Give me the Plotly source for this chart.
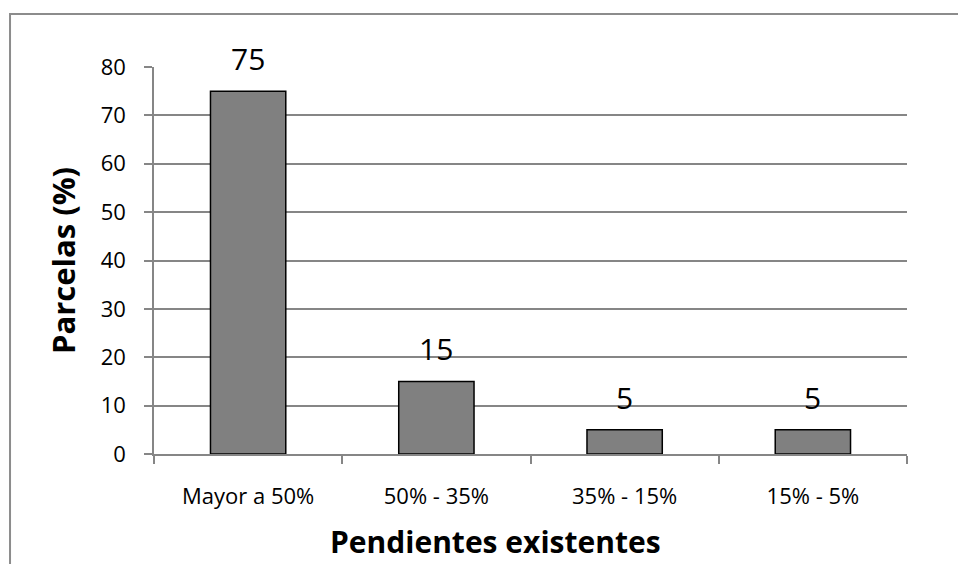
import plotly.graph_objects as go

# Slope classes and share of plots in each
categorias = ["Mayor a 50%", "50% - 35%", "35% - 15%", "15% - 5%"]
parcelas = [75, 15, 5, 5]
y_ticks = [0, 10, 20, 30, 40, 50, 60, 70, 80]

FONT = "Open Sans"
GRID = "#868686"

fig = go.Figure()
fig.add_trace(go.Bar(
    x=categorias,
    y=parcelas,
    marker=dict(color="#808080", line=dict(color="#000000", width=1.5)),
    width=0.4,
    showlegend=False,
    hoverinfo="x+y",
))

# value labels above each bar
for c, v in zip(categorias, parcelas):
    fig.add_annotation(
        x=c, y=v, text=str(v), showarrow=False,
        yanchor="bottom", yshift=10,
        font=dict(family=FONT, size=30, color="#000000"),
    )

# axis titles
fig.add_annotation(
    x=0.454, y=-0.225, xref="paper", yref="paper", text="<b>Pendientes existentes</b>",
    showarrow=False, xanchor="center", yanchor="middle",
    font=dict(family=FONT, size=30, color="#000000"),
)
fig.add_annotation(
    x=-0.121, y=0.501, xref="paper", yref="paper", text="<b>Parcelas (%)</b>",
    showarrow=False, textangle=-90, xanchor="center", yanchor="middle",
    font=dict(family=FONT, size=31, color="#000000"),
)

# chart-area frame
fig.add_shape(
    type="rect", xref="paper", yref="paper",
    x0=-0.1912, x1=1.075, y0=-0.32, y1=1.137,
    line=dict(color="#8c8c8c", width=2), fillcolor="rgba(0,0,0,0)", layer="below",
)

fig.update_layout(
    width=958, height=564,
    margin=dict(l=154, r=51, t=67, b=110),
    paper_bgcolor="#ffffff", plot_bgcolor="#ffffff",
    bargap=0.6,
    font=dict(family=FONT, color="#000000"),
    xaxis=dict(
        type="category",
        showgrid=False,
        showline=True, linecolor=GRID, linewidth=1.5,
        ticks="outside", tickson="boundaries", ticklen=8, tickcolor=GRID, tickwidth=1.5,
        tickfont=dict(family=FONT, size=22, color="#000000"),
        ticklabelstandoff=22,
        zeroline=False,
    ),
    yaxis=dict(
        range=[0, 80],
        tickvals=y_ticks,
        showgrid=True, gridcolor=GRID, gridwidth=1.5,
        showline=True, linecolor=GRID, linewidth=1.5,
        ticks="outside", ticklen=8, tickcolor=GRID, tickwidth=1.5,
        tickfont=dict(family=FONT, size=22, color="#000000"),
        ticklabelstandoff=14,
        zeroline=False,
    ),
)

fig.write_html("out.html")
